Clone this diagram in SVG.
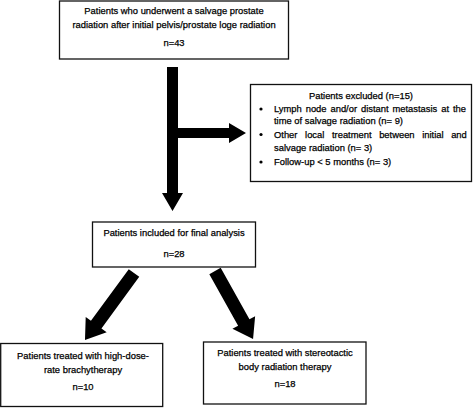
<svg xmlns="http://www.w3.org/2000/svg" width="473" height="408" viewBox="0 0 473 408">
<style>
.box{fill:#fff;stroke:#111;stroke-width:1.3}
text{font-family:"Liberation Sans",Arial,sans-serif;font-size:9.4px;fill:#000;stroke:#000;stroke-width:0.25}
.c{text-anchor:middle}
.arr{fill:#000}
</style>
<rect width="473" height="408" fill="#fff"/>
<g id="connectors">
<path class="arr" d="M167,67 H178 V128 H229 V123 L246,133 L229,143 V138 H178 V193 H183 L172.5,211 L162,193 H167 Z"/>
<polygon class="arr" transform="translate(134,273) rotate(126.2)" points="0,-6.5 64,-6.5 64,-13 83,0 64,13 64,6.5 0,6.5"/>
<polygon class="arr" transform="translate(215,271) rotate(60.8)" points="0,-6.5 59,-6.5 59,-13 78,0 59,13 59,6.5 0,6.5"/>
</g>
<g id="n1">
<rect class="box" x="59.5" y="1" width="229" height="58"/>
<text class="c" x="174" y="14">Patients who underwent a salvage prostate</text>
<text class="c" x="174" y="28">radiation after initial pelvis/prostate loge radiation</text>
<text class="c" x="174" y="46">n=43</text>
</g>
<g id="excluded">
<rect class="box" x="250.5" y="84.5" width="221" height="97"/>
<text class="c" x="361" y="99">Patients excluded (n=15)</text>
<circle cx="261" cy="109" r="1.6"/>
<circle cx="261" cy="134.5" r="1.6"/>
<circle cx="261" cy="162" r="1.6"/>
<text x="274" y="112" word-spacing="1.3">Lymph node and/or distant metastasis at the</text>
<text x="274" y="124">time of salvage radiation (n= 9)</text>
<text x="274" y="137.5" word-spacing="5">Other local treatment between initial and</text>
<text x="274" y="151">salvage radiation (n= 3)</text>
<text x="274" y="165">Follow-up &lt; 5 months (n= 3)</text>
</g>
<g id="n2">
<rect class="box" x="92.5" y="222" width="163" height="45"/>
<text class="c" x="174" y="236">Patients included for final analysis</text>
<text class="c" x="174" y="257">n=28</text>
</g>
<g id="n3">
<rect class="box" x="0.7" y="343.5" width="162" height="63"/>
<text class="c" x="83" y="359">Patients treated with high-dose-</text>
<text class="c" x="83" y="372.5">rate brachytherapy</text>
<text class="c" x="83" y="390">n=10</text>
</g>
<g id="n4">
<rect class="box" x="203.5" y="342" width="162.5" height="62"/>
<text class="c" x="285" y="356">Patients treated with stereotactic</text>
<text class="c" x="285" y="370">body radiation therapy</text>
<text class="c" x="285" y="387">n=18</text>
</g>
</svg>
